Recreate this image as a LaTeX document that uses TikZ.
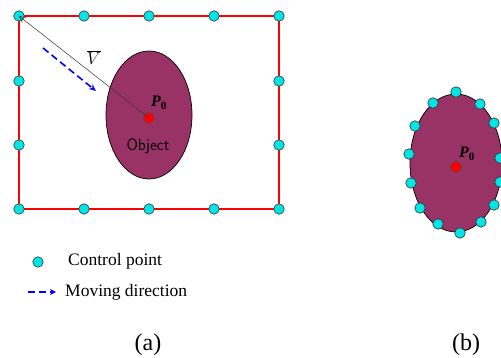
\documentclass[tikz,border=0pt]{standalone}
\usepackage{fontspec}
\setmainfont{Liberation Serif}
\usetikzlibrary{arrows.meta}
\definecolor{objcol}{HTML}{993366}
\definecolor{cpcol}{HTML}{00E5E5}
\begin{document}
\begin{tikzpicture}[x=1pt,y=-1pt,
  cp/.style={circle,draw=black!80,line width=0.6pt,fill=cpcol,minimum size=10.5pt,inner sep=0pt},
  center/.style={circle,draw=black!70,line width=0.5pt,fill=red,minimum size=11pt,inner sep=0pt},
  obj/.style={draw=black,line width=0.7pt,fill=objcol},
  frame/.style={draw=red,line width=1.8pt},
  move/.style={draw=blue,line width=1.6pt,dash pattern=on 7pt off 4pt,-{Stealth[length=7pt,width=6pt]}},
  lbl/.style={inner sep=0pt,font=\fontsize{17.5}{20}\selectfont},
  captxt/.style={inner sep=0pt,font=\fontsize{24}{28}\selectfont},
  pz/.style={inner sep=0pt,font=\bfseries\itshape\fontsize{16}{18}\selectfont}
]
\useasboundingbox (0,0) rectangle (501,358);
% (a)
\draw[frame] (19,16) rectangle (279,209);
\draw[obj] (149,115) ellipse [x radius=43, y radius=64];
\foreach \x [count=\i] in {19,84,149,214,279}{
  \node[cp] (t\i) at (\x,16) {};
  \node[cp] (b\i) at (\x,209) {};
}
\node[cp] (l2) at (19,81) {};
\node[cp] (l3) at (19,145) {};
\node[cp] (r2) at (279,81) {};
\node[cp] (r3) at (279,145) {};
\node[center] (pa) at (149,118) {};
\draw[black!80,line width=0.5pt,-{Straight Barb[length=6pt,width=6pt]}] (pa.center) -- (t1.center);
\node[inner sep=0pt,font=\fontsize{16}{18}\selectfont] (v) at (94,58) {$\overline{V}$};
\coordinate (ms) at (43,48);
\coordinate (me) at (96,91);
\draw[move] (ms) -- (me);
\node[pz] (pla) at (159,103) {P\textsubscript{\upshape 0}};
\node[inner sep=0pt,font=\sffamily\fontsize{16.5}{18}\selectfont] (objt) at (148,146) {Object};
% legend
\node[cp] (lg) at (38,262) {};
\node[lbl,anchor=west] (lgt) at (68,261) {Control point};
\coordinate (la) at (28,292);
\coordinate (lb) at (56,292);
\draw[blue,line width=1.5pt,dash pattern=on 7pt off 4pt,-{Stealth[length=6pt,width=6pt]}] (la) -- (lb);
\node[lbl,anchor=west] (lmt) at (65,292) {Moving direction};
\node[captxt] (capa) at (148,345) {(a)};
% (b)
\draw[obj] (456,163) ellipse [x radius=46, y radius=69];
\foreach \x/\y [count=\i] in {456/92,433/103,415/126,409/154,411/183,420/208,438/224,460/233,481/222,494/205,500/182,500/158,494/123,480/104}{
  \node[cp] (e\i) at (\x,\y) {};
}
\node[center] (pb) at (456,167) {};
\node[pz] (plb) at (467,154) {P\textsubscript{\upshape 0}};
\node[captxt] (capb) at (466,345) {(b)};
\end{tikzpicture}
\end{document}
